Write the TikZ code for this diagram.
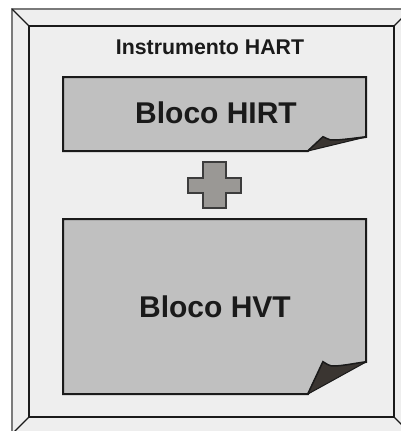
\documentclass[tikz,border=0pt]{standalone}
\usepackage{fontspec}
\setmainfont{Liberation Sans}
\definecolor{framefill}{HTML}{EEEEEE}
\definecolor{framerim}{HTML}{7A7A7A}
\definecolor{blockfill}{HTML}{C0C0C0}
\definecolor{plusfill}{HTML}{9A9895}
\definecolor{foldfill}{HTML}{3A3531}
\definecolor{inkdark}{HTML}{1A1A1A}
\tikzset{
  bevelline/.style={draw=inkdark, line width=1.4pt},
  rimline/.style={draw=framerim, line width=1.2pt},
  blockbody/.style={fill=blockfill, draw=inkdark, line width=2pt, line join=miter},
  foldpart/.style={fill=foldfill, draw=inkdark, line width=1pt, line join=round},
  plusbox/.style={fill=plusfill, draw=inkdark!85, line width=1.6pt},
  title/.style={font=\bfseries\fontsize{21.3}{24}\selectfont, text=inkdark, inner sep=0pt},
  blocklabel/.style={font=\bfseries\fontsize{30}{34}\selectfont, text=inkdark, inner sep=0pt}
}
\begin{document}
\begin{tikzpicture}[x=1pt, y=-1pt]
\useasboundingbox (0,0) rectangle (400,431);
\fill[white] (0,0) rectangle (400,431);

% bevelled outer frame
\fill[framefill] (12,9) rectangle (411,434);
\draw[rimline] (12,434) -- (12,9) -- (411,9);
\draw[bevelline] (29,26) rectangle (394,417);
\draw[bevelline] (12,9) -- (29,26);
\draw[bevelline] (394,26) -- (411,9);
\draw[bevelline] (29,417) -- (12,434);
\draw[bevelline] (394,417) -- (411,434);

\node[title] (instr) at (210,47) {Instrumento HART};

% upper block with curled corner
\path[blockbody] (63,77) -- (366,77) -- (366,137)
  .. controls (350,139) and (335,141) .. (330,140)
  .. controls (327,139) and (325,138) .. (323,137)
  -- (308,151) -- (63,151) -- cycle;
\path[foldpart] (308,151) -- (323,137)
  .. controls (325,138) and (327,139) .. (330,140)
  .. controls (335,141) and (350,139) .. (366,137) -- cycle;
\node[blocklabel] (hirt) at (216,112.5) {Bloco HIRT};

% plus sign between the blocks
\path[plusbox] (203,162) -- (226,162) -- (226,178) -- (241,178) -- (241,193)
  -- (226,193) -- (226,208) -- (203,208) -- (203,193) -- (188,193)
  -- (188,178) -- (203,178) -- cycle;
\node[inner sep=0pt] (plus) at (214.5,185) {};

% lower block with curled corner
\path[blockbody] (63,219) -- (366,219) -- (366,362)
  .. controls (352,364) and (338,367) .. (331,366)
  .. controls (327,365) and (325,363) .. (323,362)
  -- (308,394) -- (63,394) -- cycle;
\path[foldpart] (308,394) -- (323,362)
  .. controls (325,363) and (327,365) .. (331,366)
  .. controls (338,367) and (352,364) .. (366,362) -- cycle;
\node[blocklabel] (hvt) at (215,306.5) {Bloco HVT};
\end{tikzpicture}
\end{document}
